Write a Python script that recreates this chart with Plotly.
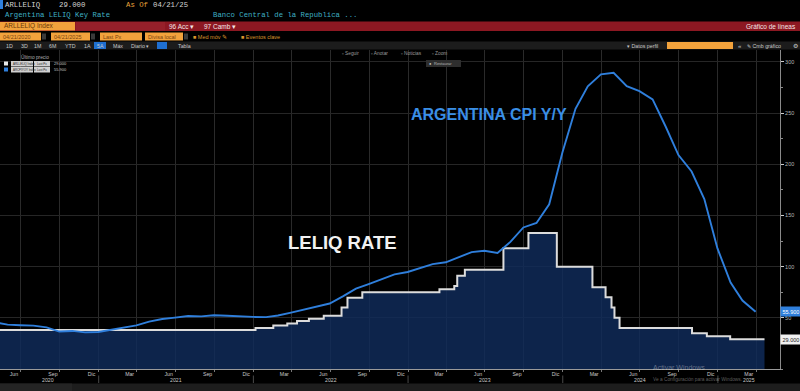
import plotly.graph_objects as go

# ---------------- data ----------------
cpi_dates = [
    "2020-04-30", "2020-05-31", "2020-06-30", "2020-07-31", "2020-08-31", "2020-09-30",
    "2020-10-31", "2020-11-30", "2020-12-31",
    "2021-01-31", "2021-02-28", "2021-03-31", "2021-04-30", "2021-05-31", "2021-06-30",
    "2021-07-31", "2021-08-31", "2021-09-30", "2021-10-31", "2021-11-30", "2021-12-31",
    "2022-01-31", "2022-02-28", "2022-03-31", "2022-04-30", "2022-05-31", "2022-06-30",
    "2022-07-31", "2022-08-31", "2022-09-30", "2022-10-31", "2022-11-30", "2022-12-31",
    "2023-01-31", "2023-02-28", "2023-03-31", "2023-04-30", "2023-05-31", "2023-06-30",
    "2023-07-31", "2023-08-31", "2023-09-30", "2023-10-31", "2023-11-30", "2023-12-31",
    "2024-01-31", "2024-02-29", "2024-03-31", "2024-04-30", "2024-05-31", "2024-06-30",
    "2024-07-31", "2024-08-31", "2024-09-30", "2024-10-31", "2024-11-30", "2024-12-31",
    "2025-01-31", "2025-02-28", "2025-03-31",
]
cpi_values = [
    45.6, 43.4, 42.8, 42.4, 40.7, 36.6, 37.2, 35.8, 36.1,
    38.5, 40.7, 42.6, 46.3, 48.8, 50.2, 51.8, 51.4, 52.5, 52.1, 51.2, 50.9,
    50.7, 52.3, 55.1, 58.0, 60.7, 64.0, 71.0, 78.5, 83.0, 88.0, 92.4, 94.8,
    98.8, 102.5, 104.3, 108.8, 114.2, 115.6, 113.4, 124.4, 138.3, 142.7, 160.9, 211.4,
    254.2, 276.2, 287.9, 289.4, 276.4, 271.5, 263.4, 236.7, 209.0, 193.0, 166.0, 117.8,
    84.5, 66.9, 55.9,
]

leliq_dates = [
    "2020-04-21", "2022-01-06", "2022-02-17", "2022-03-22", "2022-04-14", "2022-05-12",
    "2022-06-16", "2022-07-28", "2022-08-11", "2022-09-15", "2023-03-16", "2023-04-20",
    "2023-04-27", "2023-05-15", "2023-08-14", "2023-10-12", "2023-12-18", "2024-03-11",
    "2024-04-11", "2024-04-25", "2024-05-02", "2024-05-14", "2024-11-01", "2024-12-06",
    "2025-01-30", "2025-04-21",
]
leliq_values = [
    38, 40, 42.5, 44.5, 47, 49, 52, 60, 69.5, 75, 78, 81, 91, 97, 118, 133, 100, 80,
    70, 60, 50, 40, 35, 32, 29, 29,
]

month_tick_vals = [
    "2020-06-15", "2020-09-15", "2020-12-15", "2021-03-15", "2021-06-15", "2021-09-15",
    "2021-12-15", "2022-03-15", "2022-06-15", "2022-09-15", "2022-12-15", "2023-03-15",
    "2023-06-15", "2023-09-15", "2023-12-15", "2024-03-15", "2024-06-15", "2024-09-15",
    "2024-12-15", "2025-03-15",
]
month_tick_text = ["Jun", "Sep", "Dic", "Mar"] * 5
grid_vals = [
    "2020-07-01", "2020-10-01", "2021-01-01", "2021-04-01", "2021-07-01", "2021-10-01",
    "2022-01-01", "2022-04-01", "2022-07-01", "2022-10-01", "2023-01-01", "2023-04-01",
    "2023-07-01", "2023-10-01", "2024-01-01", "2024-04-01", "2024-07-01", "2024-10-01",
    "2025-01-01", "2025-04-01",
]
year_labels = ["2020", "2021", "2022", "2023", "2024", "2025"]
year_label_pos = ["2020-09-03", "2021-07-02", "2022-07-02", "2023-07-02", "2024-07-01", "2025-03-15"]
year_starts = ["2021-01-01", "2022-01-01", "2023-01-01", "2024-01-01", "2025-01-01"]
y_ticks = [50, 100, 150, 200, 250, 300]

# ---------------- layout helpers ----------------
W, H = 800, 391
L, R, T, B = 0, 20, 50, 22
PW, PH = W - L - R, H - T - B


def px(x):
    return (x - L) / PW


def py(y):
    return (H - B - y) / PH


MONO = "Liberation Mono"
SANS = "Liberation Sans"
BLUE = "#2f7fdc"

fig = go.Figure()

fig.add_trace(go.Scatter(
    x=leliq_dates, y=leliq_values, mode="lines", line_shape="hv",
    line=dict(color="#dcdcdc", width=2), fill="tozeroy",
    fillcolor="rgba(16,44,92,0.82)", hoverinfo="skip", showlegend=False,
))
fig.add_trace(go.Scatter(
    x=cpi_dates, y=cpi_values, mode="lines",
    line=dict(color=BLUE, width=1.9), hoverinfo="skip", showlegend=False,
))

shapes = []
ann = []


def rect(x0, y0, x1, y1, color, line=None):
    shapes.append(dict(type="rect", xref="paper", yref="paper", x0=px(x0), x1=px(x1),
                       y0=py(y1), y1=py(y0), fillcolor=color,
                       line=dict(width=0) if line is None else line, layer="above"))


def text(t, x, y, size, color, font=SANS, anchor="left", bold=False):
    ann.append(dict(text=("<b>%s</b>" % t) if bold else t, xref="paper", yref="paper",
                    x=px(x), y=py(y), xanchor=anchor, yanchor="middle", showarrow=False,
                    font=dict(size=size, color=color, family=font), borderpad=0))


# Header row 1 / 2
rect(0, 0, 3, 9, BLUE)
text("ARLLELIQ", 4, 5, 7.3, "#d4d4d4", MONO)
text("29.000", 58, 5, 7.3, "#d4d4d4", MONO)
text("As Of", 125, 5, 7.3, "#e8a33a", MONO)
text("04/21/25", 152, 5, 7.3, "#d4d4d4", MONO)
text("Argentina LELIQ Key Rate", 4, 15, 7.3, "#3fb0c4", MONO)
text("Banco Central de la Republica ...", 212, 15, 7.3, "#3fb0c4", MONO)

# Header row 3 (red bar)
rect(0, 21.5, 800, 31, "#8c1822")
rect(0, 22, 75, 30.5, "#f2a23c")
rect(76, 22, 165, 30.5, "#96202a")
text("ARLLELIQ Index", 3, 26.3, 6.5, "#6a3808")
text("96 Acc ▾", 168, 26.3, 6.5, "#f4e6e6")
text("97 Camb ▾", 203, 26.3, 6.5, "#f4e6e6")
text("Gráfico de líneas", 797, 26.3, 6.5, "#f4e6e6", anchor="right")

# Header row 4
for (x0, x1, t) in [(0, 41, "04/21/2020"), (51, 90, "04/21/2025"), (100, 142, "Last Px"),
                    (145, 183, "Divisa local")]:
    rect(x0, 32.5, x1, 40.5, "#f2a23c")
    text(t, x0 + 2, 36.6, 5.5, "#7a4410")
for x0 in (42, 91, 184):
    rect(x0, 33.5, x0 + 4, 39.5, "#3a3a3a")
text("■ Med móv ✎", 192, 36.6, 5.5, "#d9952c")
text("■ Eventos clave", 240, 36.6, 5.5, "#d9952c")

# Header row 5 (gray bar)
rect(0, 41.5, 800, 49.5, "#1c1c1c")
rect(94, 42, 106, 49, "#1f6fd0")
rect(157, 42, 167, 49, "#1f6fd0")
for (t, x) in [("1D", 5), ("3D", 20), ("1M", 33), ("6M", 48), ("YTD", 64), ("1A", 83),
               ("5A", 96), ("Máx", 112), ("Diario ▾", 130), ("Tabla", 177)]:
    text(t, x, 45.6, 5.3, "#c8c8c8")
text("▾ Datos perfil", 626, 45.6, 5.3, "#c8c8c8")
rect(667, 42, 733, 49, "#f2a23c")
text("«", 737, 45.6, 6, "#c8c8c8")
text("✎ Cmb gráfico", 746, 45.6, 5.3, "#c8c8c8")
text("⚙", 792, 45.6, 6, "#c8c8c8")

# Row 6 toolbar inside plot top
for (t, x) in [("▫ Seguir", 341), ("▫ Anotar", 370), ("▫ Noticias", 400), ("▫ Zoom", 431)]:
    text(t, x, 53.5, 4.8, "#9a9a9a")
text("Último precio", 20, 57.5, 4.8, "#b0b0b0")

# Legend boxes
rect(4, 61.5, 8, 65.5, "#e8e8e8")
rect(4, 67.5, 8, 71.5, BLUE)
for yy in (61, 67):
    rect(11, yy, 33, yy + 5.5, "#d0d0d0")
    rect(34, yy, 50, yy + 5.5, "#d0d0d0")
text("ARLLELIQ Index", 11.5, 63.8, 2.9, "#222")
text("ARCPIYOY Index", 11.5, 69.8, 2.9, "#222")
text("Last Px", 35.5, 63.8, 2.9, "#222")
text("Last Px", 35.5, 69.8, 2.9, "#222")
text("29.000", 53, 63.8, 4, "#c8c8c8")
text("55.900", 53, 69.8, 4, "#c8c8c8")

# Restaurar button
rect(426, 60, 461, 67, "#2e2e2e")
text("●", 428, 63.5, 4, "#cfcfcf")
text("Restaurar", 433, 63.5, 4, "#b8b8b8")

# Big labels
text("ARGENTINA CPI Y/Y", 489, 115, 16, "#3a8fe6", anchor="center", bold=True)
text("LELIQ RATE", 342, 243, 18.5, "#f2f2f2", anchor="center", bold=True)

# Last value tags on right axis
ann.append(dict(text="55.900", xref="paper", yref="y", x=1.0, y=cpi_values[-1], xanchor="left",
                yanchor="middle", showarrow=False, bgcolor=BLUE, borderpad=1.5,
                font=dict(size=5.5, color="#ffffff", family=SANS)))
ann.append(dict(text="29.000", xref="paper", yref="y", x=1.0, y=leliq_values[-1], xanchor="left",
                yanchor="middle", showarrow=False, bgcolor="#f0f0f0", borderpad=1.5,
                font=dict(size=5.5, color="#222222", family=SANS)))

# Year labels and separators
for lbl, pos in zip(year_labels, year_label_pos):
    ann.append(dict(text=lbl, xref="x", yref="paper", x=pos, y=py(380.3), xanchor="center",
                    yanchor="middle", showarrow=False,
                    font=dict(size=5.2, color="#c8c8c8", family=SANS)))
for ys in year_starts:
    shapes.append(dict(type="line", xref="x", yref="paper", x0=ys, x1=ys, y0=py(375.5), y1=py(383),
                       line=dict(color="#4a4a4a", width=1)))

# Bottom strip
rect(0, 383.5, 800, 391, "#1d1d1d")
rect(0, 383.5, 72, 391, "#242424")

# Windows watermark
text("Activar Windows", 652, 367.5, 7, "rgba(235,235,235,0.38)")
text("Ve a Configuración para activar Windows.", 652, 379, 4.8, "rgba(235,235,235,0.38)")

fig.update_layout(
    width=W, height=H,
    margin=dict(l=L, r=R, t=T, b=B),
    paper_bgcolor="#000000", plot_bgcolor="#000000",
    showlegend=False, hovermode=False,
    shapes=shapes, annotations=ann,
    xaxis=dict(
        type="date", range=["2020-05-13 03:00", "2025-05-27 14:00"],
        tickmode="array", tickvals=month_tick_vals, ticktext=month_tick_text,
        showgrid=False, ticks="", tickfont=dict(size=5.2, color="#c8c8c8", family=SANS),
        showline=True, linecolor="#9a9a9a", linewidth=1, zeroline=False,
        minor=dict(tickmode="array", tickvals=grid_vals, showgrid=True, gridcolor="#2a2a2a",
                   gridwidth=1, ticks="outside", ticklen=2, tickcolor="#777"),
        fixedrange=True,
    ),
    yaxis=dict(
        side="right", range=[0, 311.7], tickmode="array", tickvals=y_ticks,
        showgrid=True, gridcolor="#262626", gridwidth=1, zeroline=False,
        ticks="outside", ticklen=3, tickcolor="#cccccc",
        tickfont=dict(size=5.5, color="#b4b4b4", family=SANS),
        showline=True, linecolor="#8a8a8a", linewidth=1,
        minor=dict(dtick=25, ticks="outside", ticklen=2, tickcolor="#888", showgrid=False),
        fixedrange=True,
    ),
)

fig.write_html(
    "out.html",
    config={"displayModeBar": False},
    post_script="document.body.style.margin='0px';document.body.style.background='#000';document.body.style.overflow='hidden';",
)
